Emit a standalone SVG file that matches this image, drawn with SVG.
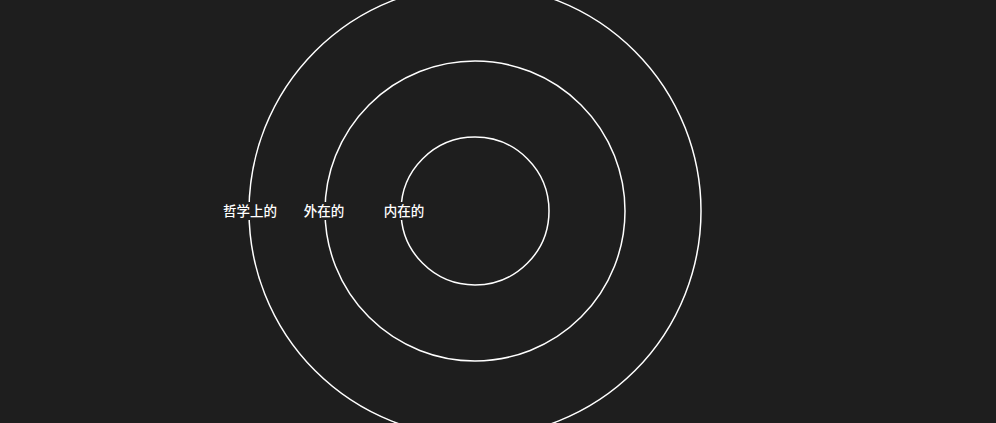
<svg xmlns="http://www.w3.org/2000/svg" width="996" height="423" viewBox="0 0 996 423">
<style>
.ring{fill:none;stroke:#ffffff;stroke-width:1.5}
.bg{fill:#1e1e1e}
.lbl{fill:#ffffff;font-family:"Noto Sans CJK SC","Noto Sans",sans-serif;font-size:13.5px;font-weight:500;text-anchor:middle}
</style>
<rect width="996" height="423" fill="#1e1e1e"/>
<g id="connectors"></g>
<g id="outer">
<circle class="ring" cx="475" cy="211" r="226"/>
<rect class="bg" x="221" y="202" width="58" height="18"/>
<text class="lbl" x="250" y="216">哲学上的</text>
</g>
<g id="middle">
<circle class="ring" cx="475" cy="211" r="150"/>
<rect class="bg" x="302" y="202" width="44" height="18"/>
<text class="lbl" x="324" y="216">外在的</text>
</g>
<g id="inner">
<circle class="ring" cx="475" cy="211" r="74"/>
<rect class="bg" x="382" y="202" width="44" height="18"/>
<text class="lbl" x="404" y="216">内在的</text>
</g>
</svg>
